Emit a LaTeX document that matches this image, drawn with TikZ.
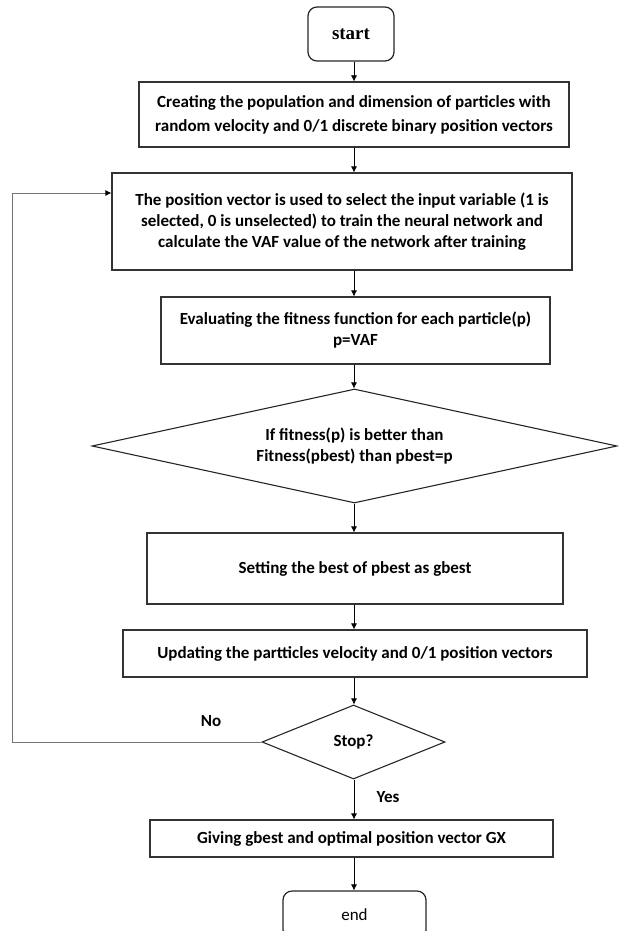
\documentclass[tikz,border=0pt]{standalone}
\usepackage{fontspec}
\setmainfont{Carlito}
\newfontfamily\serifb{Liberation Serif}
\usetikzlibrary{shapes.geometric,arrows.meta}
\begin{document}
\begin{tikzpicture}[x=1pt,y=-1pt,
  every node/.style={font=\fontsize{17}{21}\selectfont\bfseries, align=center, inner sep=0pt},
  procbox/.style={draw=black!80, line width=1.2pt, rectangle},
  termbox/.style={draw=black!85, line width=1.2pt, rectangle, rounded corners=9pt},
  decbox/.style={draw=black!85, line width=1.1pt, diamond},
  flow/.style={draw=black, line width=0.7pt, -{Latex[length=6pt,width=6pt]}},
  loopline/.style={draw=black!55, line width=0.8pt, -{Latex[length=6pt,width=6pt,color=black]}}
]
\useasboundingbox (0,0) rectangle (618,931);
\coordinate (spine) at (354,0);

\node[termbox, minimum width=86pt, minimum height=54pt, font=\fontsize{19}{22}\selectfont\serifb\bfseries] (start) at (351,34) {start};
\node[procbox, minimum width=430pt, minimum height=65pt, font=\fontsize{17}{24}\selectfont\bfseries] (b1) at (354,114.5)
  {Creating the population and dimension of particles with\\random velocity and 0/1 discrete binary position vectors};
\node[procbox, minimum width=460pt, minimum height=97pt] (b2) at (342,221.5)
  {The position vector is used to select the input variable (1 is\\selected, 0 is unselected) to train the neural network and\\calculate the VAF value of the network after training};
\node[procbox, minimum width=389pt, minimum height=67pt] (b3) at (355.5,330.5)
  {Evaluating the fitness function for each particle(p)\\p=VAF};
\node[decbox, aspect=4.6, minimum width=525pt, minimum height=114pt] (d1) at (354.5,446)
  {If fitness(p) is better than\\Fitness(pbest) than pbest=p};
\node[procbox, minimum width=416pt, minimum height=71pt] (b4) at (355,568.5)
  {Setting the best of pbest as gbest};
\node[procbox, minimum width=464pt, minimum height=47pt] (b5) at (355,653.5)
  {Updating the partticles velocity and 0/1 position vectors};
\node[decbox, aspect=2.5, minimum width=183pt, minimum height=74pt] (d2) at (353.5,742)
  {Stop?};
\node[procbox, minimum width=403pt, minimum height=37pt] (b6) at (351.5,838.5)
  {Giving gbest and optimal position vector GX};
\node[termbox, minimum width=143pt, minimum height=48pt, font=\fontsize{17}{20}\selectfont] (end) at (354.5,915) {end};

\node (no) at (211,721) {No};
\node (yes) at (388,797) {Yes};

\draw[flow] (start.south -| spine) -- (b1.north -| spine);
\draw[flow] (b1.south -| spine) -- (b2.north -| spine);
\draw[flow] (b2.south -| spine) -- (b3.north -| spine);
\draw[flow] (b3.south -| spine) -- (d1.north -| spine);
\draw[flow] (d1.south -| spine) -- (b4.north -| spine);
\draw[flow] (b4.south -| spine) -- (b5.north -| spine);
\draw[flow] (b5.south -| spine) -- (d2.north -| spine);
\draw[flow] (d2.south -| spine) -- (b6.north -| spine);
\draw[flow] (b6.south -| spine) -- (end.north -| spine);

\coordinate (lb) at (12,742);
\coordinate (lt) at (12,193);
\draw[loopline] (d2.west) -- (lb) -- (lt) -- (lt -| b2.west);
\end{tikzpicture}
\end{document}
